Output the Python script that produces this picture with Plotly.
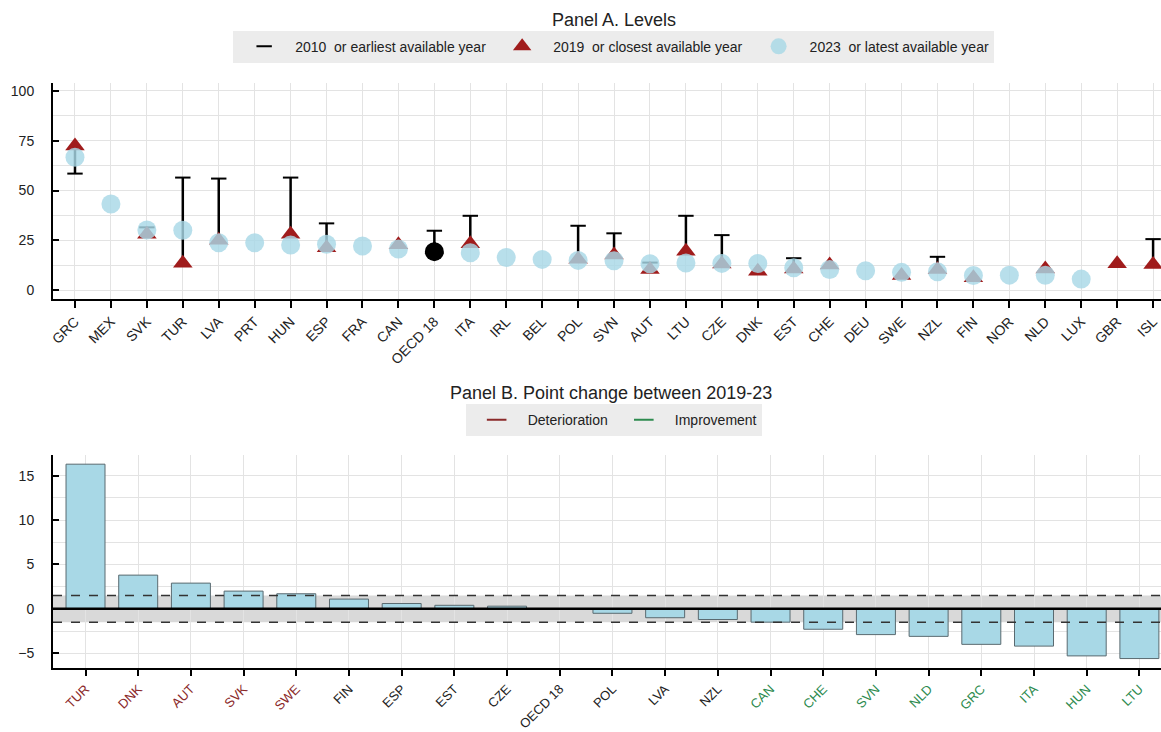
import plotly.graph_objects as go

# ---------------- Panel A data ----------------
countries_a = ["GRC", "MEX", "SVK", "TUR", "LVA", "PRT", "HUN", "ESP", "FRA", "CAN", "OECD 18",
               "ITA", "IRL", "BEL", "POL", "SVN", "AUT", "LTU", "CZE", "DNK", "EST", "CHE",
               "DEU", "SWE", "NZL", "FIN", "NOR", "NLD", "LUX", "GBR", "ISL"]
v2010 = [58.5, None, 31.5, 56.5, 56.0, None, 56.5, 33.5, None, None, 29.8,
         37.3, None, None, 32.3, 28.5, 13.8, 37.3, 27.6, None, 16.0, None,
         None, None, 16.7, None, None, None, None, None, 25.6]
v2019 = [72.4, None, 28.0, 13.5, 25.0, None, 28.0, 21.3, None, 22.8, 20.5,
         23.3, None, None, 15.5, 17.6, 10.3, 19.5, 13.1, 9.5, 10.6, 12.6,
         None, 7.3, 10.3, 6.2, None, 10.6, None, 13.2, 12.8]
v2023 = [66.7, 43.2, 30.2, 30.0, 23.8, 23.8, 22.6, 23.0, 22.1, 20.6, 19.3,
         18.7, 16.4, 15.4, 14.9, 14.7, 13.2, 13.6, 13.4, 13.3, 11.2, 10.3,
         9.7, 8.9, 9.2, 7.3, 7.5, 7.4, 5.5, None, None]

# ---------------- Panel B data ----------------
countries_b = ["TUR", "DNK", "AUT", "SVK", "SWE", "FIN", "ESP", "EST", "CZE", "OECD 18", "POL",
               "LVA", "NZL", "CAN", "CHE", "SVN", "NLD", "GRC", "ITA", "HUN", "LTU"]
change = [16.3, 3.8, 2.9, 2.0, 1.7, 1.1, 0.6, 0.4, 0.3, None, -0.5,
          -1.0, -1.2, -1.5, -2.3, -2.9, -3.1, -4.0, -4.2, -5.3, -5.6]
status_b = ["det", "det", "det", "det", "det", "none", "none", "none", "none", "none", "none",
            "none", "none", "imp", "imp", "imp", "imp", "imp", "imp", "imp", "imp"]
threshold = 1.5

FONT = "Liberation Sans Narrow, Arial Narrow, Liberation Sans, Arial, sans-serif"
RED = "#a01c1c"
BLUE = "#a8d8e6"
GREEN = "#2e8b4f"
DRED = "#8b2a2a"
GRID = "#e3e3e3"
label_col = {"det": DRED, "none": "#222222", "imp": GREEN}

fig = go.Figure()

# connector lines 2010 -> 2019
lx, ly = [], []
for c, a, b in zip(countries_a, v2010, v2019):
    if a is not None and b is not None:
        lx += [c, c, None]
        ly += [a, b, None]
fig.add_trace(go.Scatter(x=lx, y=ly, mode="lines", line=dict(color="black", width=2.5),
                         showlegend=False, hoverinfo="skip", xaxis="x", yaxis="y"))
fig.add_trace(go.Scatter(x=countries_a, y=v2010, mode="markers",
                         name="2010\u00a0\u00a0or earliest available year",
                         marker=dict(symbol="line-ew", size=11, color="black",
                                     line=dict(color="black", width=2)),
                         xaxis="x", yaxis="y", legend="legend"))
tri_col = ["black" if c == "OECD 18" else RED for c in countries_a]
fig.add_trace(go.Scatter(x=countries_a, y=v2019, mode="markers",
                         name="2019\u00a0\u00a0or closest available year",
                         marker=dict(symbol="triangle-up", size=17, color=tri_col, line=dict(width=0)),
                         xaxis="x", yaxis="y", legend="legend"))
circ_col = ["black" if c == "OECD 18" else BLUE for c in countries_a]
circ_op = [1.0 if c == "OECD 18" else 0.82 for c in countries_a]
fig.add_trace(go.Scatter(x=countries_a, y=v2023, mode="markers",
                         name="2023\u00a0\u00a0or latest available year",
                         marker=dict(symbol="circle", size=19, color=circ_col, opacity=circ_op,
                                     line=dict(width=0)),
                         xaxis="x", yaxis="y", legend="legend"))

# Panel B bars
fig.add_trace(go.Bar(x=countries_b, y=change, marker=dict(color=BLUE, line=dict(color="#5a6a70", width=1)),
                     width=0.74, showlegend=False, xaxis="x2", yaxis="y2"))
fig.add_trace(go.Scatter(x=[None], y=[None], mode="markers", name="Deterioration",
                         marker=dict(symbol="line-ew", size=14, color=DRED, line=dict(color=DRED, width=2)),
                         xaxis="x2", yaxis="y2", legend="legend2"))
fig.add_trace(go.Scatter(x=[None], y=[None], mode="markers", name="Improvement",
                         marker=dict(symbol="line-ew", size=14, color=GREEN, line=dict(color=GREEN, width=2)),
                         xaxis="x2", yaxis="y2", legend="legend2"))

ticktext_b = ['<span style="color:%s">%s</span>' % (label_col[s], c) for c, s in zip(countries_b, status_b)]

axis_common = dict(showline=True, linecolor="black", linewidth=2, showgrid=True, gridcolor=GRID,
                   gridwidth=1, zeroline=False)

fig.update_layout(
    width=1161, height=732,
    margin=dict(l=53, r=0, t=0, b=0, autoexpand=False),
    paper_bgcolor="white", plot_bgcolor="white",
    font=dict(family=FONT, size=14, color="#222"),
    xaxis=dict(**axis_common, type="category", categoryorder="array", categoryarray=countries_a,
               range=[-0.612, 30.22], domain=[0, 1], anchor="y", tickangle=-45,
               tickfont=dict(family=FONT, size=14, color="#222"),
               ticks="outside", ticklen=7, tickwidth=1.5, tickcolor="black"),
    yaxis=dict(**axis_common, domain=[0.5915, 0.8866], anchor="x", range=[-4.5, 104],
               tickfont=dict(family=FONT, size=14, color="#222"),
               tickmode="linear", tick0=0, dtick=25, ticks="inside", ticklen=6, tickwidth=1.5,
               tickcolor="black", ticklabelstandoff=14,
               minor=dict(dtick=12.5, showgrid=True, gridcolor=GRID, gridwidth=1, ticks="")),
    xaxis2=dict(**axis_common, type="category", categoryorder="array", categoryarray=countries_b,
                range=[-0.617, 20.41], domain=[0, 1], anchor="y2", tickangle=-45,
                tickfont=dict(family=FONT, size=13, color="#222"),
                tickmode="array", tickvals=countries_b, ticktext=ticktext_b,
                ticks="outside", ticklen=6, tickwidth=1.5, tickcolor="black"),
    yaxis2=dict(**axis_common, domain=[0.087, 0.378], anchor="x2", range=[-6.7, 17.3],
                tickfont=dict(family=FONT, size=14, color="#222"),
                tickmode="linear", tick0=0, dtick=5, ticks="inside", ticklen=6, tickwidth=1.5,
                tickcolor="black", ticklabelstandoff=14,
                minor=dict(dtick=2.5, showgrid=True, gridcolor=GRID, gridwidth=1, ticks="")),
    legend=dict(orientation="h", x=0.506, xanchor="center", y=0.958, yanchor="top",
                bgcolor="#ececec", font=dict(family=FONT, size=14, color="#222"),
                itemwidth=52),
    legend2=dict(orientation="h", x=0.506, xanchor="center", y=0.448, yanchor="top",
                 bgcolor="#ececec", font=dict(family=FONT, size=14, color="#222"), itemwidth=52),
    annotations=[
        dict(text="Panel A. Levels", x=0.506, y=0.9727, xref="paper", yref="paper",
             showarrow=False, font=dict(family=FONT, size=18, color="#222"), yanchor="middle"),
        dict(text="Panel B. Point change between 2019-23", x=0.504, y=0.463, xref="paper", yref="paper",
             showarrow=False, font=dict(family=FONT, size=18, color="#222"), yanchor="middle"),
    ],
    shapes=[
        dict(type="rect", xref="x2 domain", yref="y2", x0=0, x1=1, y0=-threshold, y1=threshold,
             fillcolor="#d9d9d9", line=dict(width=0), layer="below"),
        dict(type="line", xref="x2 domain", yref="y2", x0=0, x1=1, y0=threshold, y1=threshold,
             line=dict(color="#333", width=1.5, dash="dash"), layer="above"),
        dict(type="line", xref="x2 domain", yref="y2", x0=0, x1=1, y0=-threshold, y1=-threshold,
             line=dict(color="#333", width=1.5, dash="dash"), layer="above"),
        dict(type="line", xref="x2 domain", yref="y2", x0=0, x1=1, y0=0, y1=0,
             line=dict(color="black", width=2.5), layer="above"),
    ],
)

fig.write_html("out.html")
